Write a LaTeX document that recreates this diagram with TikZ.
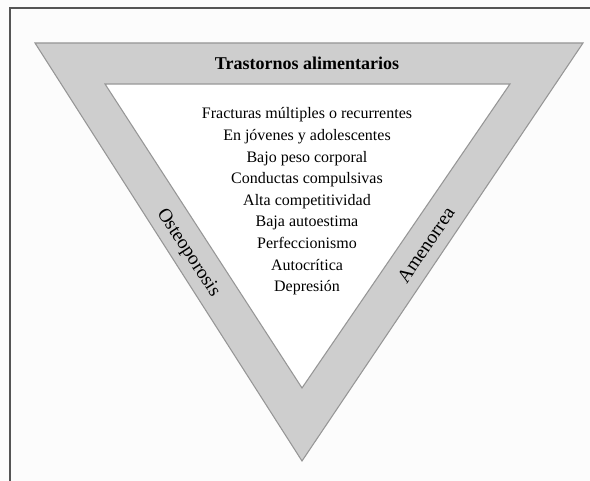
\documentclass[tikz,border=0pt]{standalone}
\usepackage{fontspec}
\setmainfont{Liberation Serif}
\usetikzlibrary{positioning}
\definecolor{bandgray}{RGB}{206,206,206}
\definecolor{edgegray}{RGB}{150,150,150}
\definecolor{framegray}{RGB}{85,85,85}
\definecolor{paper}{RGB}{252,252,252}
\tikzstyle{band} = [fill=bandgray, draw=edgegray, line width=0.8pt]
\tikzstyle{hole} = [fill=white, draw=edgegray, line width=0.8pt]
\tikzstyle{item} = [font=\fontsize{12}{14}\selectfont, inner sep=0pt, text height=8.5pt, text depth=2.5pt]
\tikzstyle{title} = [font=\fontsize{13.5}{16}\selectfont\bfseries, inner sep=0pt]
\tikzstyle{side} = [font=\fontsize{14.5}{17}\selectfont, inner sep=0pt]

\begin{document}
\begin{tikzpicture}[x=0.75pt, y=-0.75pt, node distance=16.2pt]
    \useasboundingbox (0,0) rectangle (590,481);
    \fill[paper] (0,0) rectangle (590,481);
    % Frame
    \draw[framegray, line width=1.5pt] (10,481) -- (10,8) -- (590,8);
    % Triangle band
    \draw[band] (35,43) -- (583,43) -- (302,461) -- cycle;
    \draw[hole] (105,84) -- (510,84) -- (302,388) -- cycle;

    % Band labels
    \node (top) [title] at (307,63) {Trastornos alimentarios};
    \node (osteo) [side, rotate=-57] at (188,253) {Osteoporosis};
    \node (amen) [side, rotate=56] at (426,245) {Amenorrea};

    % List
    \node (l1) [item] at (307,115) {Fracturas múltiples o recurrentes};
    \node (l2) [item, below of=l1] {En jóvenes y adolescentes};
    \node (l3) [item, below of=l2] {Bajo peso corporal};
    \node (l4) [item, below of=l3] {Conductas compulsivas};
    \node (l5) [item, below of=l4] {Alta competitividad};
    \node (l6) [item, below of=l5] {Baja autoestima};
    \node (l7) [item, below of=l6] {Perfeccionismo};
    \node (l8) [item, below of=l7] {Autocrítica};
    \node (l9) [item, below of=l8] {Depresión};
\end{tikzpicture}
\end{document}
